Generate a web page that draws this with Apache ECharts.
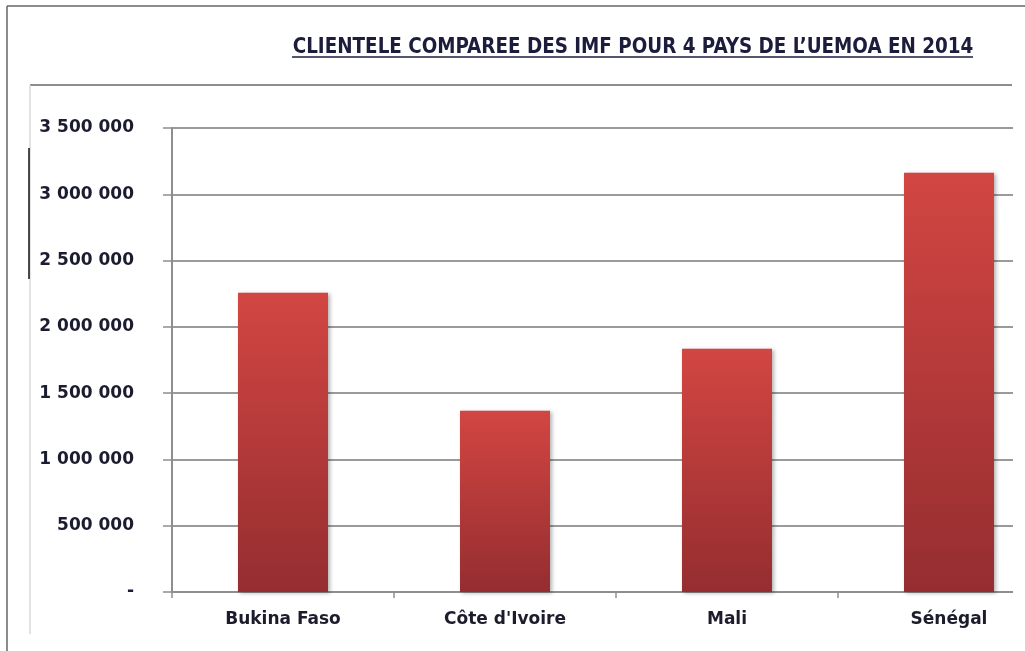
<!DOCTYPE html>
<html>
<head>
<meta charset="utf-8">
<script src="https://cdn.jsdelivr.net/npm/echarts@6/dist/echarts.min.js"></script>
<style>html,body{margin:0;padding:0;background:#fff;}#c{width:1025px;height:651px;}</style>
</head>
<body>
<div id="c"></div>
<script>
const titleText = "CLIENTELE COMPAREE DES IMF POUR 4 PAYS DE L\u2019UEMOA EN 2014";
const categories = ["Bukina Faso", "Côte d'Ivoire", "Mali", "Sénégal"];
const clients = [2258000, 1368000, 1835000, 3163000];
const yTickLabels = ["-", "500 000", "1 000 000", "1 500 000", "2 000 000", "2 500 000", "3 000 000", "3 500 000"];
const yStep = 500000;

const chart = echarts.init(document.getElementById('c'), null, {renderer: 'canvas'});
chart.setOption({
  animation: false,
  backgroundColor: '#ffffff',
  title: {
    text: titleText,
    left: 628,
    top: 33,
    textAlign: 'center',
    textStyle: {fontFamily: 'DejaVu Sans Condensed, DejaVu Sans', fontWeight: 'bold', fontSize: 20.4, color: '#1c1c3c'}
  },
  grid: {left: 172, width: 888, top: 128, bottom: 59, containLabel: false, outerBoundsMode: 'none'},
  xAxis: {
    type: 'category',
    data: categories,
    axisLine: {lineStyle: {color: '#8e8e8e', width: 2}},
    axisTick: {show: true, length: 6, lineStyle: {color: '#8e8e8e', width: 1.5}},
    axisLabel: {margin: 19, fontFamily: 'DejaVu Sans', fontWeight: 'bold', fontSize: 17, color: '#1c1c2c'},
    splitLine: {show: false}
  },
  yAxis: {
    type: 'value',
    min: 0, max: 3500000, interval: yStep,
    axisLine: {show: true, lineStyle: {color: '#8e8e8e', width: 2}},
    axisTick: {show: true, length: 9, lineStyle: {color: '#8e8e8e', width: 1.5}},
    axisLabel: {
      margin: 38,
      fontFamily: 'DejaVu Sans', fontWeight: 'bold', fontSize: 17, color: '#1c1c30',
      formatter: v => yTickLabels[Math.round(v / yStep)]
    },
    splitLine: {show: true, lineStyle: {color: '#9a9a9a', width: 2}}
  },
  series: [{
    type: 'bar',
    data: clients,
    barWidth: 90,
    itemStyle: {
      color: new echarts.graphic.LinearGradient(0, 0, 0, 1, [
        {offset: 0, color: '#d24642'},
        {offset: 1, color: '#952d30'}
      ]),
      shadowColor: 'rgba(0,0,0,0.3)', shadowBlur: 4, shadowOffsetX: 2, shadowOffsetY: 1
    }
  }],
  graphic: [
    {type: 'rect', z: 100, zlevel: 1, shape: {x: 1013, y: 80, width: 12, height: 571}, style: {fill: '#ffffff'}},
    {type: 'line', z: 101, zlevel: 1, shape: {x1: 7, y1: 6, x2: 1025, y2: 6}, style: {stroke: '#666666', lineWidth: 1.5}},
    {type: 'line', z: 101, zlevel: 1, shape: {x1: 7, y1: 6, x2: 7, y2: 651}, style: {stroke: '#666666', lineWidth: 1.5}},
    {type: 'line', z: 101, zlevel: 1, shape: {x1: 30, y1: 85, x2: 1012, y2: 85}, style: {stroke: '#8e8e8e', lineWidth: 2}},
    {type: 'line', z: 101, zlevel: 1, shape: {x1: 30, y1: 85, x2: 30, y2: 634}, style: {stroke: '#d8d8d8', lineWidth: 1.5}},
    {type: 'line', z: 102, zlevel: 1, shape: {x1: 29, y1: 148, x2: 29, y2: 279}, style: {stroke: '#111111', lineWidth: 1.5}},
    {type: 'line', z: 101, zlevel: 1, shape: {x1: 292, y1: 57, x2: 973, y2: 57}, style: {stroke: '#1c1c3c', lineWidth: 1.5}}
  ]
});
</script>
</body>
</html>
